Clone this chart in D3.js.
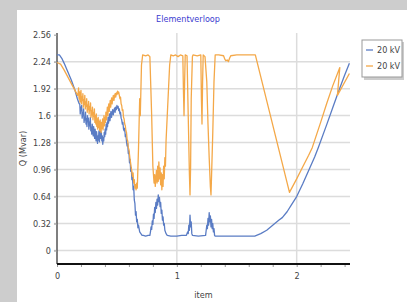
<!DOCTYPE html>
<html><head><meta charset="utf-8">
<script src="https://cdn.jsdelivr.net/npm/d3@7"></script>
<style>
body{margin:0;padding:0;background:#fff;}
svg{display:block;}
text{font-family:"Liberation Sans Narrow","DejaVu Sans Condensed","Arial Narrow",sans-serif;}
</style></head>
<body><svg id="c" width="407" height="302"></svg>
<script>
// ---- data (item, Q in Mvar) ----
const seriesNames = ["20 kV", "20 kV"];
const seriesColors = ["#5a7cc4", "#f4a848"];
const yTicks = [0, 0.32, 0.64, 0.96, 1.28, 1.6, 1.92, 2.24, 2.56];
const yTickLabels = ["0", "0.32", "0.64", "0.96", "1.28", "1.6", "1.92", "2.24", "2.56"];
const xMajorTicks = [0, 1, 2];
const xMinorTicks = [0, 0.2, 0.4, 0.6, 0.8, 1, 1.2, 1.4, 1.6, 1.8, 2, 2.2, 2.4];
const xDomain = [0, 2.445];
const yDomain = [-0.16, 2.58];

const blue = [
[0,2.32],[0.02,2.32],[0.04,2.28],[0.06,2.22],[0.09,2.12],[0.12,2.02],[0.15,1.9],[0.17,1.8],[0.185,1.74],
[0.19,1.74],[0.194,1.62],[0.198,1.70],[0.202,1.66],[0.206,1.72],[0.21,1.57],[0.214,1.63],[0.218,1.60],[0.222,1.68],
[0.226,1.52],[0.23,1.58],[0.234,1.55],[0.238,1.64],[0.242,1.50],[0.246,1.56],[0.25,1.47],[0.254,1.60],[0.258,1.53],
[0.262,1.57],[0.266,1.44],[0.27,1.52],[0.274,1.48],[0.278,1.58],[0.282,1.42],[0.286,1.46],[0.29,1.38],[0.294,1.50],
[0.298,1.45],[0.302,1.36],[0.306,1.47],[0.31,1.40],[0.314,1.33],[0.318,1.44],[0.322,1.37],[0.326,1.30],[0.33,1.41],
[0.334,1.35],[0.338,1.27],[0.342,1.36],[0.346,1.31],[0.35,1.42],[0.354,1.29],[0.358,1.38],[0.362,1.46],[0.366,1.33],
[0.37,1.40],[0.374,1.30],[0.378,1.36],[0.382,1.26],[0.386,1.34],[0.39,1.30],[0.394,1.40],[0.398,1.35],[0.402,1.44],
[0.406,1.38],[0.41,1.50],[0.414,1.43],[0.418,1.52],[0.422,1.47],[0.426,1.58],[0.43,1.51],[0.434,1.56],[0.438,1.62],
[0.442,1.54],[0.446,1.60],[0.45,1.65],[0.455,1.58],[0.46,1.63],[0.465,1.67],[0.47,1.61],[0.475,1.66],[0.48,1.69],
[0.485,1.64],[0.49,1.70],[0.495,1.67],[0.5,1.72],[0.505,1.69],[0.51,1.71],[0.515,1.66],[0.52,1.68],[0.525,1.62],
[0.53,1.64],[0.535,1.57],[0.54,1.55],[0.545,1.50],[0.55,1.52],[0.555,1.44],[0.56,1.42],[0.565,1.45],[0.57,1.35],
[0.575,1.37],[0.58,1.29],[0.585,1.24],[0.59,1.27],[0.595,1.15],[0.6,1.18],[0.605,1.04],
[0.61,1.08],[0.615,0.94],[0.62,0.98],[0.625,0.84],[0.63,0.88],[0.635,0.72],[0.64,0.76],[0.645,0.60],[0.65,0.56],
[0.655,0.42],[0.66,0.46],[0.665,0.34],[0.67,0.37],[0.675,0.27],[0.68,0.30],[0.69,0.22],[0.7,0.20],[0.71,0.18],
[0.72,0.18],[0.74,0.17],[0.76,0.18],[0.775,0.18],
[0.78,0.22],[0.785,0.28],[0.79,0.25],[0.795,0.35],[0.8,0.31],[0.805,0.43],[0.81,0.38],[0.815,0.51],[0.82,0.45],
[0.825,0.57],[0.83,0.50],[0.835,0.61],[0.84,0.54],[0.845,0.66],[0.85,0.58],[0.855,0.63],[0.86,0.52],[0.865,0.57],
[0.87,0.44],[0.875,0.48],[0.88,0.36],[0.885,0.40],[0.89,0.30],[0.895,0.32],[0.9,0.24],[0.91,0.20],[0.92,0.18],
[0.95,0.17],[1.0,0.17],[1.04,0.18],[1.08,0.18],[1.09,0.22],[1.095,0.20],[1.1,0.30],[1.105,0.24],[1.11,0.42],
[1.115,0.28],[1.12,0.34],[1.125,0.20],[1.13,0.18],[1.18,0.17],[1.24,0.18],
[1.245,0.24],[1.25,0.30],[1.255,0.26],[1.26,0.38],[1.265,0.30],[1.27,0.45],[1.275,0.34],[1.28,0.41],[1.285,0.28],
[1.29,0.37],[1.295,0.26],[1.3,0.32],[1.305,0.22],[1.31,0.26],[1.315,0.18],[1.32,0.17],
[1.4,0.17],[1.5,0.17],[1.6,0.17],[1.65,0.17],[1.7,0.20],[1.75,0.24],[1.8,0.30],[1.85,0.36],[1.88,0.39],
[1.92,0.46],[1.96,0.55],[2.0,0.64],[2.05,0.79],[2.1,0.95],[2.15,1.11],[2.18,1.22],[2.25,1.49],[2.3,1.69],
[2.35,1.89],[2.4,2.08],[2.44,2.22]
];

const orange = [
[0,2.23],[0.03,2.21],[0.06,2.14],[0.09,2.06],[0.12,1.98],[0.15,1.90],[0.172,1.84],
[0.176,1.86],[0.18,1.93],[0.184,1.80],[0.188,1.88],[0.192,1.76],[0.196,1.84],[0.2,1.90],[0.204,1.74],[0.208,1.82],
[0.212,1.78],[0.216,1.86],[0.22,1.70],[0.224,1.79],[0.228,1.73],[0.232,1.84],[0.236,1.68],[0.24,1.76],[0.244,1.71],
[0.248,1.80],[0.252,1.64],[0.256,1.72],[0.26,1.67],[0.264,1.77],[0.268,1.62],[0.272,1.70],[0.276,1.66],[0.28,1.75],
[0.284,1.58],[0.288,1.66],[0.292,1.61],[0.296,1.70],[0.3,1.55],[0.304,1.63],[0.308,1.59],[0.312,1.68],[0.316,1.52],
[0.32,1.60],[0.324,1.50],[0.328,1.62],[0.332,1.47],[0.336,1.56],[0.34,1.44],[0.344,1.58],[0.348,1.46],[0.352,1.53],
[0.356,1.42],[0.36,1.55],[0.364,1.48],[0.368,1.40],[0.372,1.52],[0.376,1.45],[0.38,1.56],[0.384,1.43],[0.388,1.50],
[0.392,1.60],[0.396,1.48],[0.4,1.58],[0.404,1.52],[0.408,1.64],[0.412,1.55],[0.416,1.62],[0.42,1.70],[0.424,1.60],
[0.428,1.68],[0.432,1.74],[0.436,1.65],[0.44,1.72],[0.444,1.78],[0.448,1.70],[0.452,1.76],[0.456,1.81],[0.46,1.74],
[0.465,1.80],[0.47,1.84],[0.475,1.78],[0.48,1.83],[0.485,1.86],[0.49,1.82],[0.495,1.87],[0.5,1.85],[0.505,1.89],
[0.51,1.86],[0.515,1.88],[0.52,1.84],[0.525,1.80],[0.53,1.82],[0.535,1.74],[0.54,1.72],[0.545,1.66],[0.55,1.67],
[0.555,1.58],[0.56,1.56],[0.565,1.50],[0.57,1.48],[0.575,1.42],[0.58,1.40],[0.585,1.32],[0.59,1.30],[0.595,1.22],
[0.6,1.20],[0.61,1.08],[0.62,0.98],
[0.63,0.88],[0.635,0.92],[0.64,0.80],[0.645,0.84],[0.65,0.74],[0.655,0.78],[0.66,0.72],[0.665,0.80],[0.67,0.74],
[0.68,1.20],[0.69,1.80],[0.695,1.60],[0.705,2.20],[0.715,2.32],[0.74,2.31],[0.76,2.32],[0.775,2.30],
[0.79,1.60],[0.8,1.00],[0.81,0.80],[0.815,0.90],[0.82,0.76],[0.83,0.95],[0.835,0.80],[0.84,1.00],[0.845,0.82],
[0.85,1.05],[0.855,0.85],[0.86,0.98],[0.865,0.78],[0.87,0.92],[0.875,0.72],[0.88,0.90],[0.885,0.76],[0.89,1.00],
[0.895,0.85],[0.9,1.10],[0.905,1.00],[0.91,1.30],[0.92,1.60],[0.93,1.90],[0.94,2.20],[0.95,2.32],
[0.97,2.31],[0.99,2.32],[1.01,2.30],[1.03,2.32],[1.05,2.31],[1.055,1.90],[1.06,1.60],[1.065,2.00],[1.07,2.32],
[1.085,2.31],[1.095,1.60],[1.105,0.90],[1.11,0.66],[1.115,1.00],[1.12,1.80],[1.13,2.30],[1.135,2.32],
[1.17,2.31],[1.2,2.32],[1.205,1.80],[1.21,1.50],[1.215,2.00],[1.22,2.32],[1.235,2.30],[1.25,2.00],[1.26,1.50],
[1.27,1.10],[1.28,0.75],[1.285,0.66],[1.29,0.90],[1.3,1.40],[1.31,2.00],[1.32,2.32],
[1.35,2.32],[1.39,2.31],[1.4,2.27],[1.41,2.25],[1.42,2.26],[1.43,2.24],[1.44,2.28],[1.45,2.31],[1.5,2.32],
[1.6,2.32],[1.655,2.32],[1.94,0.69],[2.0,0.85],[2.05,0.99],[2.1,1.13],[2.13,1.22],[2.2,1.52],[2.25,1.74],
[2.3,1.95],[2.36,2.17],[2.34,1.84],[2.44,2.10]
];

// ---- drawing ----
const svg = d3.select("#c");
const W = 407, H = 302;
svg.append("rect").attr("width", W).attr("height", H).attr("fill", "#cdcdcd");
svg.append("rect").attr("x", 17).attr("y", 10).attr("width", W - 17).attr("height", H - 10).attr("fill", "#fff");

const mLeft = 57, mRight = 350, mTop = 33, mBottom = 264;
const x = d3.scaleLinear().domain(xDomain).range([mLeft, mRight]);
const y = d3.scaleLinear().domain(yDomain).range([mBottom, mTop]);

// horizontal grid
svg.append("g").selectAll("line").data(yTicks.filter(v => v < 2.5)).join("line")
  .attr("x1", mLeft - 3).attr("x2", mRight)
  .attr("y1", d => y(d)).attr("y2", d => y(d))
  .attr("stroke", "#dcdcdc").attr("stroke-width", 1.5);
// vertical grid
svg.append("g").selectAll("line").data(xMajorTicks.filter(v => v > 0)).join("line")
  .attr("x1", d => x(d)).attr("x2", d => x(d))
  .attr("y1", mTop).attr("y2", mBottom)
  .attr("stroke", "#dcdcdc").attr("stroke-width", 1.5);

const fam = '"Liberation Sans Narrow","DejaVu Sans Condensed",sans-serif';
// y axis
const yAxis = d3.axisLeft(y).tickValues(yTicks)
  .tickFormat((d, i) => yTickLabels[i]).tickSize(3).tickPadding(3);
const gy = svg.append("g").attr("transform", `translate(${mLeft},0)`).call(yAxis);
gy.select(".domain").attr("stroke", "#555").attr("stroke-width", 1.5).attr("d", `M0,${mTop}V${mBottom}`);
gy.selectAll(".tick line").attr("stroke", "#999");
gy.selectAll(".tick text").attr("fill", "#444").attr("font-size", 9).attr("font-family", fam);

// x axis
const xAxisMinor = d3.axisBottom(x).tickValues(xMinorTicks).tickFormat("").tickSize(3);
const gxm = svg.append("g").attr("transform", `translate(0,${mBottom})`).call(xAxisMinor);
gxm.select(".domain").remove();
gxm.selectAll(".tick line").attr("stroke", "#999");
const xAxis = d3.axisBottom(x).tickValues(xMajorTicks).tickFormat(d3.format("d")).tickSize(0).tickPadding(9);
const gx = svg.append("g").attr("transform", `translate(0,${mBottom})`).call(xAxis);
gx.select(".domain").attr("stroke", "#111").attr("stroke-width", 2.2).attr("d", `M${mLeft},0H${mRight}`);
gx.selectAll(".tick text").attr("fill", "#444").attr("font-size", 9).attr("font-family", fam);

// lines
const line = d3.line().x(d => x(d[0])).y(d => y(d[1]));
[blue, orange].forEach((s, i) => {
  svg.append("path").datum(s).attr("d", line)
    .attr("fill", "none").attr("stroke", seriesColors[i])
    .attr("stroke-width", 1.3).attr("stroke-linejoin", "round");
});

// titles
svg.append("text").attr("x", 188).attr("y", 22).attr("text-anchor", "middle")
  .attr("font-size", 9).attr("fill", "#3b3bcf").text("Elementverloop");
svg.append("text").attr("x", (mLeft + mRight) / 2).attr("y", 298).attr("text-anchor", "middle")
  .attr("font-size", 9).attr("fill", "#444").text("item");
svg.append("text").attr("transform", `translate(26,${(mTop + mBottom) / 2}) rotate(-90)`)
  .attr("text-anchor", "middle").attr("font-size", 9).attr("fill", "#444").text("Q (Mvar)");

// legend
const lg = svg.append("g");
lg.append("rect").attr("x", 364).attr("y", 42).attr("width", 40).attr("height", 38).attr("fill", "#aaa").attr("opacity", 0.6);
lg.append("rect").attr("x", 362).attr("y", 40).attr("width", 40).attr("height", 37)
  .attr("fill", "#fff").attr("stroke", "#999").attr("stroke-width", 1);
seriesNames.forEach((n, i) => {
  const yy = 50 + i * 16;
  lg.append("line").attr("x1", 366).attr("x2", 373).attr("y1", yy).attr("y2", yy)
    .attr("stroke", seriesColors[i]).attr("stroke-width", 1.3);
  lg.append("text").attr("x", 377).attr("y", yy + 3).attr("font-size", 9).attr("fill", "#444").text(n);
});
</script></body></html>
